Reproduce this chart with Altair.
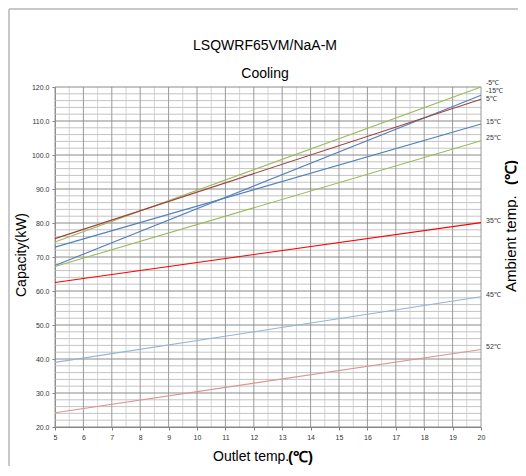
import altair as alt
import pandas as pd

# ---- data ----
series = ["-5℃", "-15℃", "5℃", "15℃", "25℃", "35℃", "45℃", "52℃"]
outlet = [5, 20]
cap_at_5 = [74.4, 67.5, 75.4, 72.9, 67.2, 62.5, 39.0, 24.2]
cap_at_20 = [120.0, 117.6, 116.4, 109.1, 104.2, 80.1, 58.3, 42.8]
label_pos = [121.3, 118.9, 116.4, 109.6, 104.9, 80.6, 58.8, 43.4]
colors = ["#9BBB59", "#4F81BD", "#A0403E", "#4F81BD", "#9BBB59", "#FF0000", "#95B3D7", "#D99694"]

x_ticks = list(range(5, 21))
y_ticks = list(range(20, 121, 10))

title_main = "LSQWRF65VM/NaA-M"
title_sub = "Cooling"
y_title = "Capacity(kW)"
x_title = "Outlet temp."
r_title = "Ambient temp."
unit = "(℃)"

FONT = "Liberation Sans"
W, H = 426, 340

rows = []
for s, a, b in zip(series, cap_at_5, cap_at_20):
    rows.append({"series": s, "outlet": outlet[0], "cap": a})
    rows.append({"series": s, "outlet": outlet[1], "cap": b})
lines_df = pd.DataFrame(rows)
labels_df = pd.DataFrame({"series": series, "outlet": [outlet[1]] * len(series), "cap": label_pos})

xs = alt.Scale(domain=[5, 20], nice=False, zero=False)
ys = alt.Scale(domain=[20, 120], nice=False, zero=False)
cs = alt.Scale(domain=series, range=colors)

axis_common = dict(title=None, grid=False, labelFontSize=7, labelFont=FONT, labelColor="#333",
                   tickSize=3, tickColor="#808080", domainColor="#808080", labelPadding=3,
                   labelOverlap=False, labelFlush=False, labelBound=False)
XA = alt.Axis(values=x_ticks, format="d", **axis_common)
YA = alt.Axis(values=y_ticks, format=".1f", **axis_common)

# grid
xmin = pd.DataFrame({"v": [v + 0.5 for v in x_ticks[:-1]]})
xmaj = pd.DataFrame({"v": x_ticks})
ymin = pd.DataFrame({"v": [v for v in range(22, 120, 2) if v % 10 != 0]})
ymaj = pd.DataFrame({"v": y_ticks})

g_xmin = alt.Chart(xmin).mark_rule(color="#d4d4d4", strokeWidth=1).encode(x=alt.X("v:Q", scale=xs, axis=XA))
g_ymin = alt.Chart(ymin).mark_rule(color="#c4c4c4", strokeWidth=1).encode(y=alt.Y("v:Q", scale=ys, axis=YA))
g_xmaj = alt.Chart(xmaj).mark_rule(color="#9a9a9a", strokeWidth=1).encode(x=alt.X("v:Q", scale=xs, axis=XA))
g_ymaj = alt.Chart(ymaj).mark_rule(color="#8a8a8a", strokeWidth=1).encode(y=alt.Y("v:Q", scale=ys, axis=YA))

lines = alt.Chart(lines_df).mark_line(strokeWidth=1.1).encode(
    x=alt.X("outlet:Q", scale=xs, axis=XA),
    y=alt.Y("cap:Q", scale=ys, axis=YA),
    color=alt.Color("series:N", scale=cs, legend=None),
    detail="series:N",
)

labels = alt.Chart(labels_df).mark_text(align="left", baseline="middle", dx=5,
                                         fontSize=7, font=FONT, color="#333").encode(
    x=alt.X("outlet:Q", scale=xs, axis=XA),
    y=alt.Y("cap:Q", scale=ys, axis=YA),
    text="series:N",
)

def txt(t, x, y, size, angle=0, align="center", weight="normal"):
    return alt.Chart(pd.DataFrame({"t": [t]})).mark_text(
        fontSize=size, font=FONT, angle=angle, align=align, baseline="middle",
        fontWeight=weight, color="#000").encode(
        x=alt.value(x), y=alt.value(y), text="t:N")

texts = [
    txt(title_main, 210, -41, 14),
    txt(title_sub, 210, -13, 14),
    txt(y_title, -33, 168, 14, angle=270),
    txt(x_title, 158, 370, 14, align="left"),
    txt(unit, 233, 370, 15, align="left", weight="bold"),
    txt(r_title, 456, 205, 15, angle=270, align="left"),
    txt(unit, 456, 98, 15, angle=270, align="left", weight="bold"),
]

frame_df = pd.DataFrame({"a": [0]})
frame_left = alt.Chart(frame_df).mark_rule(color="#c8c8c8", strokeWidth=2).encode(
    x=alt.value(-46), y=alt.value(-78), y2=alt.value(400))
frame_top = alt.Chart(frame_df).mark_rule(color="#c8c8c8", strokeWidth=2).encode(
    x=alt.value(-46), x2=alt.value(480), y=alt.value(-78))

chart = alt.layer(
    g_xmin, g_ymin, g_xmaj, g_ymaj, lines, labels, frame_left, frame_top, *texts
).properties(
    width=W, height=H,
    autosize=alt.AutoSizeParams(type="none"),
    padding={"left": 47, "top": 79, "right": 37, "bottom": 39},
).configure_view(stroke=None).configure_axis(labelOverlap=False, labelFlush=False)

chart.save("out.html", embed_options={"renderer": "svg", "actions": False})
